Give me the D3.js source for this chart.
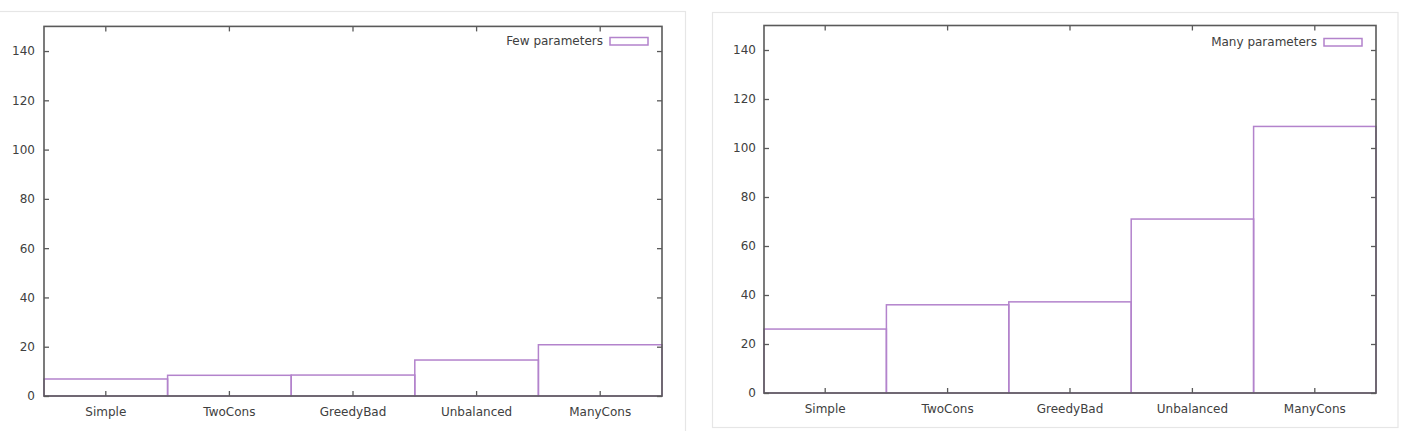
<!DOCTYPE html>
<html>
<head>
<meta charset="utf-8">
<script src="https://cdn.jsdelivr.net/npm/d3@7"></script>
<style>
  html, body { margin: 0; padding: 0; background: #ffffff; }
  svg { display: block; }
</style>
</head>
<body>
<svg id="chart" width="1404" height="431"></svg>
<script>
// ---- data ----
const categories = ["Simple", "TwoCons", "GreedyBad", "Unbalanced", "ManyCons"];
const fewValues  = [6.9, 8.4, 8.5, 14.6, 20.8];
const manyValues = [26.1, 36.0, 37.2, 71.0, 108.8];
const yTicks = [0, 20, 40, 60, 80, 100, 120, 140];
const yMax = 150;
const legendFew = "Few parameters";
const legendMany = "Many parameters";

// ---- drawing ----
const svg = d3.select("#chart");
const FONT = "'DejaVu Sans', Verdana, sans-serif";
const BAR = "#b383cc";
const AXIS = "#5a5a5a";

// panel cards
svg.append("rect").attr("x", -5).attr("y", 11.5).attr("width", 690.5).attr("height", 430)
  .attr("fill", "#fff").attr("stroke", "#e6e6e6").attr("stroke-width", 1.2);
svg.append("rect").attr("x", 712.5).attr("y", 12.5).attr("width", 685.5).attr("height", 415)
  .attr("fill", "#fff").attr("stroke", "#e6e6e6").attr("stroke-width", 1.2);

function panel(values, label, g) {
  const x = d3.scaleBand().domain(categories).range([g.left, g.right]).padding(0);
  const y = d3.scaleLinear().domain([0, yMax]).range([g.bottom, g.top]);
  const root = svg.append("g");

  // bars (boxes spanning full bin)
  root.selectAll("rect.bar").data(categories).join("rect")
    .attr("class", "bar")
    .attr("x", d => x(d))
    .attr("y", (d, i) => y(values[i]))
    .attr("width", x.bandwidth())
    .attr("height", (d, i) => y(0) - y(values[i]))
    .attr("fill", "none")
    .attr("stroke", BAR)
    .attr("stroke-width", 1.5);

  // axes with inward ticks
  const styleAxis = sel => {
    sel.select(".domain").remove();
    sel.selectAll(".tick line").attr("stroke", AXIS).attr("stroke-width", 1.3);
    sel.selectAll(".tick text").attr("fill", "#404040").style("font-family", FONT).style("font-size", "12px");
  };
  root.append("g").attr("transform", `translate(${g.left},0)`)
    .call(d3.axisLeft(y).tickValues(yTicks).tickSize(-5).tickPadding(g.ypad)).call(styleAxis);
  root.append("g").attr("transform", `translate(${g.right},0)`)
    .call(d3.axisRight(y).tickValues(yTicks).tickSize(-5).tickFormat("")).call(styleAxis);
  root.append("g").attr("transform", `translate(0,${g.bottom})`)
    .call(d3.axisBottom(x).tickSize(-5).tickPadding(11)).call(styleAxis);
  root.append("g").attr("transform", `translate(0,${g.top})`)
    .call(d3.axisTop(x).tickSize(-5).tickFormat("")).call(styleAxis);

  // frame
  root.append("rect").attr("x", g.left).attr("y", g.top)
    .attr("width", g.right - g.left).attr("height", g.bottom - g.top)
    .attr("fill", "none").attr("stroke", AXIS).attr("stroke-width", 1.6);

  // legend
  root.append("text").attr("x", g.legX).attr("y", g.legY + 4)
    .attr("text-anchor", "end").attr("fill", "#404040")
    .style("font-family", FONT).style("font-size", "12px").text(label);
  root.append("rect").attr("x", g.legX + 7).attr("y", g.legY - 3.5)
    .attr("width", 38).attr("height", 7.5)
    .attr("fill", "none").attr("stroke", BAR).attr("stroke-width", 1.5);
}

panel(fewValues, legendFew, {left: 44, right: 662, top: 26.4, bottom: 396, ypad: 9, legX: 603, legY: 41});
panel(manyValues, legendMany, {left: 764, right: 1376, top: 25.5, bottom: 393, ypad: 8, legX: 1317, legY: 42});
</script>
</body>
</html>
